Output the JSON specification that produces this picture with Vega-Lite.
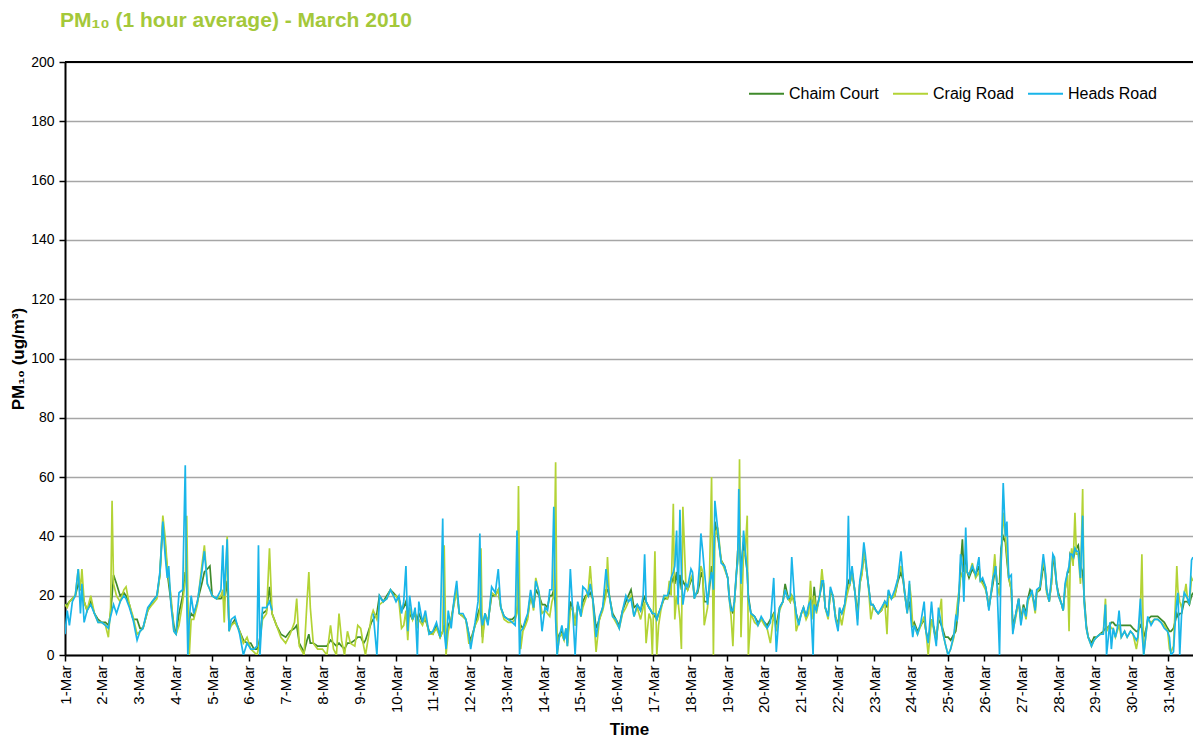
{
  "$schema": "https://vega.github.io/schema/vega-lite/v6.json",
  "autosize": {"type": "none"},
  "padding": {"left": 65, "top": 62, "right": 0, "bottom": 83},
  "width": 1128,
  "height": 593,
  "background": "white",
  "config": {
    "font": "Liberation Sans",
    "view": {"stroke": null},
    "axis": {"labelFont": "Liberation Sans", "titleFont": "Liberation Sans", "labelColor": "#000000", "titleColor": "#000000"}
  },
  "title": {
    "text": "PM₁₀ (1 hour average) - March 2010",
    "anchor": "start",
    "frame": "group",
    "dx": -5,
    "offset": 7,
    "baseline": "alphabetic",
    "fontSize": 21,
    "fontWeight": "bold",
    "font": "Liberation Sans",
    "color": "#a4c83a"
  },
  "data": {
    "values": [
      {"d":1.0,"c":17,"r":17,"h":7},{"d":1.06,"c":17,"r":16,"h":15},{"d":1.12,"c":18,"r":18,"h":10},{"d":1.2,"c":19,"r":19,"h":18},{"d":1.28,"c":20,"r":20,"h":20},{"d":1.36,"c":24,"r":29,"h":29},{"d":1.42,"c":22,"r":22,"h":14},{"d":1.46,"c":22,"r":29,"h":24},{"d":1.52,"c":18,"r":18,"h":11},{"d":1.6,"c":15,"r":15,"h":15},{"d":1.7,"c":18,"r":20,"h":17},{"d":1.8,"c":14,"r":14,"h":14},{"d":1.9,"c":12,"r":11,"h":11},
      {"d":2.0,"c":11,"r":11,"h":11},{"d":2.1,"c":11,"r":10,"h":10},{"d":2.18,"c":10,"r":6,"h":9},{"d":2.24,"c":14,"r":16,"h":13},{"d":2.28,"c":20,"r":52,"h":15},{"d":2.32,"c":27,"r":24,"h":17},{"d":2.4,"c":24,"r":20,"h":14},{"d":2.5,"c":20,"r":18,"h":18},{"d":2.6,"c":21,"r":22,"h":20},{"d":2.66,"c":20,"r":23,"h":19},{"d":2.75,"c":17,"r":17,"h":16},{"d":2.85,"c":12,"r":13,"h":12},{"d":2.96,"c":12,"r":7,"h":5},
      {"d":3.04,"c":9,"r":8,"h":8},{"d":3.12,"c":9,"r":9,"h":9},{"d":3.25,"c":15,"r":15,"h":16},{"d":3.37,"c":18,"r":17,"h":18},{"d":3.5,"c":20,"r":19,"h":20},{"d":3.58,"c":27,"r":27,"h":28},{"d":3.66,"c":44,"r":47,"h":45},{"d":3.72,"c":38,"r":40,"h":34},{"d":3.78,"c":28,"r":30,"h":26},{"d":3.82,"c":24,"r":26,"h":30},{"d":3.88,"c":18,"r":20,"h":17},{"d":3.96,"c":10,"r":8,"h":8},
      {"d":4.02,"c":7,"r":7,"h":7},{"d":4.1,"c":14,"r":10,"h":21},{"d":4.2,"c":20,"r":18,"h":22},{"d":4.27,"c":28,"r":25,"h":64},{"d":4.31,"c":24,"r":47,"h":20},{"d":4.34,"c":10,"r":20,"h":0},{"d":4.38,"c":12,"r":0,"h":12},{"d":4.43,"c":14,"r":12,"h":20},{"d":4.5,"c":13,"r":12,"h":14},{"d":4.6,"c":18,"r":17,"h":18},{"d":4.72,"c":24,"r":30,"h":28},{"d":4.79,"c":28,"r":37,"h":35},{"d":4.87,"c":29,"r":24,"h":24},{"d":4.94,"c":30,"r":22,"h":22},
      {"d":5.0,"c":20,"r":20,"h":20},{"d":5.12,"c":19,"r":19,"h":19},{"d":5.24,"c":19,"r":20,"h":22},{"d":5.29,"c":20,"r":22,"h":37},{"d":5.33,"c":18,"r":11,"h":20},{"d":5.41,"c":25,"r":40,"h":39},{"d":5.46,"c":10,"r":8,"h":8},{"d":5.52,"c":10,"r":10,"h":12},{"d":5.62,"c":12,"r":11,"h":13},{"d":5.75,"c":8,"r":8,"h":7},{"d":5.85,"c":5,"r":4,"h":0},{"d":5.95,"c":4,"r":6,"h":4},
      {"d":6.05,"c":4,"r":2,"h":2},{"d":6.14,"c":2,"r":1,"h":2},{"d":6.22,"c":2,"r":0,"h":3},{"d":6.26,"c":3,"r":2,"h":37},{"d":6.3,"c":6,"r":5,"h":0},{"d":6.37,"c":14,"r":12,"h":16},{"d":6.48,"c":15,"r":14,"h":16},{"d":6.56,"c":23,"r":36,"h":18},{"d":6.63,"c":14,"r":14,"h":15},{"d":6.75,"c":10,"r":10,"h":null},{"d":6.87,"c":7,"r":6,"h":null},
      {"d":7.0,"c":6,"r":4,"h":null},{"d":7.12,"c":8,"r":7,"h":null},{"d":7.24,"c":9,"r":11,"h":null},{"d":7.3,"c":10,"r":19,"h":null},{"d":7.37,"c":4,"r":3,"h":null},{"d":7.5,"c":1,"r":0,"h":null},{"d":7.58,"c":5,"r":18,"h":null},{"d":7.63,"c":7,"r":28,"h":null},{"d":7.67,"c":4,"r":16,"h":null},{"d":7.75,"c":4,"r":4,"h":null},{"d":7.87,"c":3,"r":2,"h":null},
      {"d":8.0,"c":3,"r":2,"h":null},{"d":8.12,"c":3,"r":0,"h":null},{"d":8.22,"c":5,"r":10,"h":null},{"d":8.3,"c":4,"r":2,"h":null},{"d":8.38,"c":3,"r":0,"h":null},{"d":8.45,"c":4,"r":14,"h":null},{"d":8.52,"c":3,"r":5,"h":null},{"d":8.6,"c":2,"r":0,"h":null},{"d":8.68,"c":4,"r":8,"h":null},{"d":8.76,"c":4,"r":4,"h":null},{"d":8.88,"c":5,"r":3,"h":null},{"d":8.96,"c":6,"r":10,"h":null},
      {"d":9.04,"c":6,"r":9,"h":null},{"d":9.12,"c":4,"r":3,"h":null},{"d":9.17,"c":5,"r":0,"h":null},{"d":9.25,"c":8,"r":6,"h":null},{"d":9.33,"c":11,"r":13,"h":null},{"d":9.38,"c":12,"r":15,"h":14},{"d":9.48,"c":14,"r":12,"h":0},{"d":9.55,"c":20,"r":17,"h":20},{"d":9.65,"c":18,"r":18,"h":18},{"d":9.75,"c":20,"r":19,"h":19},{"d":9.85,"c":22,"r":22,"h":22},{"d":9.93,"c":21,"r":20,"h":20},
      {"d":10.0,"c":20,"r":20,"h":18},{"d":10.08,"c":19,"r":18,"h":20},{"d":10.15,"c":15,"r":9,"h":14},{"d":10.21,"c":16,"r":10,"h":18},{"d":10.27,"c":18,"r":15,"h":30},{"d":10.32,"c":14,"r":5,"h":8},{"d":10.37,"c":14,"r":16,"h":20},{"d":10.45,"c":12,"r":12,"h":12},{"d":10.52,"c":14,"r":15,"h":16},{"d":10.58,"c":12,"r":9,"h":0},{"d":10.62,"c":14,"r":12,"h":18},{"d":10.72,"c":11,"r":10,"h":11},{"d":10.8,"c":12,"r":13,"h":15},{"d":10.9,"c":8,"r":7,"h":7},
      {"d":11.0,"c":7,"r":7,"h":8},{"d":11.1,"c":10,"r":9,"h":11},{"d":11.2,"c":6,"r":6,"h":6},{"d":11.27,"c":8,"r":8,"h":46},{"d":11.31,"c":10,"r":37,"h":8},{"d":11.36,"c":6,"r":0,"h":2},{"d":11.42,"c":10,"r":8,"h":15},{"d":11.5,"c":12,"r":12,"h":9},{"d":11.58,"c":18,"r":17,"h":19},{"d":11.65,"c":22,"r":22,"h":25},{"d":11.72,"c":14,"r":14,"h":14},{"d":11.82,"c":13,"r":13,"h":14},{"d":11.9,"c":12,"r":12,"h":12},{"d":11.98,"c":7,"r":4,"h":7},
      {"d":12.03,"c":5,"r":4,"h":2},{"d":12.15,"c":10,"r":10,"h":11},{"d":12.23,"c":14,"r":12,"h":18},{"d":12.28,"c":16,"r":15,"h":41},{"d":12.31,"c":14,"r":36,"h":14},{"d":12.35,"c":6,"r":4,"h":10},{"d":12.42,"c":14,"r":14,"h":14},{"d":12.5,"c":11,"r":11,"h":10},{"d":12.6,"c":20,"r":21,"h":23},{"d":12.7,"c":20,"r":20,"h":21},{"d":12.78,"c":22,"r":22,"h":29},{"d":12.85,"c":16,"r":16,"h":16},{"d":12.94,"c":13,"r":12,"h":13},
      {"d":13.05,"c":12,"r":11,"h":12},{"d":13.16,"c":12,"r":11,"h":11},{"d":13.24,"c":13,"r":12,"h":10},{"d":13.29,"c":15,"r":14,"h":42},{"d":13.33,"c":18,"r":57,"h":20},{"d":13.36,"c":12,"r":20,"h":0},{"d":13.39,"c":10,"r":2,"h":8},{"d":13.45,"c":9,"r":8,"h":9},{"d":13.52,"c":11,"r":10,"h":12},{"d":13.58,"c":13,"r":12,"h":14},{"d":13.66,"c":20,"r":21,"h":22},{"d":13.74,"c":16,"r":15,"h":16},{"d":13.8,"c":22,"r":26,"h":25},{"d":13.89,"c":20,"r":21,"h":21},{"d":13.97,"c":17,"r":14,"h":8},
      {"d":14.05,"c":17,"r":15,"h":16},{"d":14.12,"c":16,"r":14,"h":15},{"d":14.18,"c":20,"r":13,"h":22},{"d":14.24,"c":20,"r":18,"h":22},{"d":14.29,"c":22,"r":20,"h":50},{"d":14.34,"c":16,"r":65,"h":12},{"d":14.38,"c":4,"r":0,"h":0},{"d":14.44,"c":7,"r":6,"h":6},{"d":14.51,"c":8,"r":7,"h":10},{"d":14.57,"c":5,"r":5,"h":5},{"d":14.62,"c":8,"r":9,"h":9},{"d":14.66,"c":4,"r":3,"h":3},{"d":14.74,"c":18,"r":15,"h":29},{"d":14.8,"c":16,"r":16,"h":16},{"d":14.87,"c":10,"r":10,"h":0},{"d":14.94,"c":17,"r":17,"h":18},
      {"d":15.03,"c":14,"r":13,"h":13},{"d":15.08,"c":18,"r":16,"h":23},{"d":15.16,"c":20,"r":19,"h":22},{"d":15.23,"c":20,"r":22,"h":20},{"d":15.28,"c":21,"r":30,"h":24},{"d":15.35,"c":19,"r":18,"h":19},{"d":15.44,"c":9,"r":1,"h":6},{"d":15.53,"c":12,"r":12,"h":13},{"d":15.62,"c":16,"r":15,"h":16},{"d":15.71,"c":22,"r":20,"h":29},{"d":15.75,"c":22,"r":33,"h":24},{"d":15.8,"c":20,"r":20,"h":20},{"d":15.89,"c":14,"r":13,"h":13},{"d":15.98,"c":12,"r":11,"h":12},
      {"d":16.07,"c":10,"r":9,"h":9},{"d":16.16,"c":15,"r":14,"h":15},{"d":16.25,"c":18,"r":16,"h":20},{"d":16.32,"c":20,"r":18,"h":18},{"d":16.39,"c":22,"r":20,"h":19},{"d":16.47,"c":16,"r":13,"h":13},{"d":16.56,"c":17,"r":16,"h":17},{"d":16.65,"c":15,"r":12,"h":15},{"d":16.72,"c":18,"r":16,"h":20},{"d":16.76,"c":20,"r":18,"h":34},{"d":16.8,"c":18,"r":4,"h":18},{"d":16.88,"c":16,"r":14,"h":16},{"d":16.93,"c":15,"r":12,"h":15},{"d":16.97,"c":14,"r":0,"h":14},
      {"d":17.04,"c":13,"r":35,"h":14},{"d":17.09,"c":12,"r":0,"h":12},{"d":17.14,"c":14,"r":10,"h":14},{"d":17.2,"c":16,"r":15,"h":16},{"d":17.29,"c":19,"r":20,"h":20},{"d":17.38,"c":19,"r":19,"h":20},{"d":17.43,"c":21,"r":25,"h":22},{"d":17.48,"c":24,"r":20,"h":26},{"d":17.54,"c":26,"r":51,"h":28},{"d":17.58,"c":24,"r":12,"h":30},{"d":17.63,"c":28,"r":20,"h":42},{"d":17.67,"c":22,"r":18,"h":17},{"d":17.72,"c":27,"r":12,"h":49},{"d":17.76,"c":22,"r":2,"h":28},{"d":17.8,"c":25,"r":50,"h":17},{"d":17.88,"c":23,"r":24,"h":24},{"d":17.93,"c":22,"r":22,"h":23},
      {"d":18.02,"c":25,"r":26,"h":29},{"d":18.06,"c":26,"r":27,"h":28},{"d":18.11,"c":20,"r":19,"h":19},{"d":18.2,"c":21,"r":22,"h":22},{"d":18.25,"c":24,"r":26,"h":30},{"d":18.29,"c":28,"r":30,"h":41},{"d":18.34,"c":26,"r":28,"h":35},{"d":18.38,"c":18,"r":10,"h":29},{"d":18.47,"c":18,"r":16,"h":17},{"d":18.52,"c":22,"r":24,"h":24},{"d":18.58,"c":30,"r":60,"h":28},{"d":18.63,"c":24,"r":0,"h":22},{"d":18.67,"c":45,"r":40,"h":52},{"d":18.75,"c":40,"r":43,"h":42},{"d":18.84,"c":32,"r":32,"h":31},{"d":18.93,"c":30,"r":29,"h":30},
      {"d":19.02,"c":26,"r":26,"h":26},{"d":19.06,"c":20,"r":19,"h":19},{"d":19.11,"c":16,"r":13,"h":15},{"d":19.16,"c":14,"r":3,"h":15},{"d":19.2,"c":18,"r":17,"h":18},{"d":19.25,"c":26,"r":27,"h":27},{"d":19.29,"c":35,"r":31,"h":32},{"d":19.32,"c":38,"r":40,"h":56},{"d":19.34,"c":36,"r":66,"h":40},{"d":19.38,"c":30,"r":6,"h":24},{"d":19.45,"c":38,"r":35,"h":42},{"d":19.49,"c":34,"r":34,"h":36},{"d":19.55,"c":28,"r":47,"h":28},{"d":19.58,"c":20,"r":0,"h":19},{"d":19.65,"c":14,"r":14,"h":14},{"d":19.75,"c":13,"r":11,"h":13},{"d":19.84,"c":11,"r":10,"h":10},{"d":19.93,"c":12,"r":12,"h":13},
      {"d":20.02,"c":11,"r":10,"h":11},{"d":20.09,"c":10,"r":9,"h":9},{"d":20.18,"c":12,"r":4,"h":11},{"d":20.27,"c":14,"r":14,"h":26},{"d":20.34,"c":10,"r":8,"h":1},{"d":20.43,"c":16,"r":15,"h":16},{"d":20.52,"c":18,"r":18,"h":18},{"d":20.58,"c":24,"r":22,"h":22},{"d":20.65,"c":20,"r":19,"h":19},{"d":20.72,"c":18,"r":18,"h":20},{"d":20.76,"c":20,"r":20,"h":33},{"d":20.84,"c":18,"r":17,"h":18},{"d":20.88,"c":14,"r":8,"h":14},{"d":20.95,"c":11,"r":11,"h":10},
      {"d":21.02,"c":14,"r":14,"h":14},{"d":21.08,"c":16,"r":15,"h":16},{"d":21.15,"c":13,"r":12,"h":13},{"d":21.22,"c":16,"r":14,"h":17},{"d":21.27,"c":20,"r":25,"h":18},{"d":21.34,"c":16,"r":12,"h":0},{"d":21.37,"c":23,"r":20,"h":17},{"d":21.43,"c":15,"r":14,"h":15},{"d":21.52,"c":20,"r":20,"h":20},{"d":21.58,"c":24,"r":29,"h":25},{"d":21.62,"c":24,"r":24,"h":25},{"d":21.67,"c":16,"r":16,"h":16},{"d":21.75,"c":13,"r":12,"h":13},{"d":21.81,"c":21,"r":22,"h":23},{"d":21.88,"c":20,"r":20,"h":20},{"d":21.95,"c":13,"r":13,"h":12},
      {"d":22.02,"c":10,"r":9,"h":8},{"d":22.06,"c":15,"r":14,"h":16},{"d":22.12,"c":14,"r":10,"h":14},{"d":22.2,"c":17,"r":16,"h":17},{"d":22.26,"c":22,"r":20,"h":24},{"d":22.3,"c":25,"r":22,"h":47},{"d":22.34,"c":24,"r":24,"h":24},{"d":22.4,"c":28,"r":28,"h":30},{"d":22.47,"c":22,"r":22,"h":22},{"d":22.55,"c":14,"r":12,"h":10},{"d":22.61,"c":24,"r":24,"h":25},{"d":22.67,"c":28,"r":27,"h":30},{"d":22.72,"c":34,"r":35,"h":38},{"d":22.76,"c":32,"r":32,"h":34},{"d":22.84,"c":24,"r":24,"h":24},{"d":22.91,"c":17,"r":12,"h":17},{"d":22.97,"c":17,"r":16,"h":17},
      {"d":23.05,"c":15,"r":15,"h":15},{"d":23.11,"c":14,"r":14,"h":14},{"d":23.2,"c":15,"r":15,"h":16},{"d":23.29,"c":18,"r":18,"h":18},{"d":23.35,"c":16,"r":7,"h":17},{"d":23.39,"c":21,"r":20,"h":22},{"d":23.47,"c":19,"r":19,"h":19},{"d":23.56,"c":20,"r":20,"h":22},{"d":23.65,"c":25,"r":26,"h":26},{"d":23.73,"c":28,"r":30,"h":35},{"d":23.79,"c":25,"r":26,"h":26},{"d":23.84,"c":20,"r":20,"h":20},{"d":23.9,"c":15,"r":14,"h":14},{"d":23.96,"c":18,"r":24,"h":25},
      {"d":24.0,"c":14,"r":20,"h":12},{"d":24.05,"c":10,"r":10,"h":6},{"d":24.09,"c":11,"r":10,"h":10},{"d":24.18,"c":8,"r":7,"h":7},{"d":24.27,"c":10,"r":10,"h":11},{"d":24.36,"c":12,"r":13,"h":18},{"d":24.41,"c":8,"r":8,"h":8},{"d":24.47,"c":5,"r":0,"h":4},{"d":24.56,"c":12,"r":12,"h":18},{"d":24.63,"c":9,"r":8,"h":8},{"d":24.69,"c":5,"r":5,"h":3},{"d":24.75,"c":12,"r":12,"h":16},{"d":24.83,"c":10,"r":19,"h":10},{"d":24.86,"c":9,"r":8,"h":8},{"d":24.93,"c":6,"r":4,"h":4},
      {"d":25.01,"c":6,"r":0,"h":0},{"d":25.08,"c":5,"r":2,"h":2},{"d":25.17,"c":7,"r":6,"h":7},{"d":25.22,"c":8,"r":12,"h":13},{"d":25.26,"c":12,"r":17,"h":12},{"d":25.31,"c":20,"r":22,"h":22},{"d":25.35,"c":30,"r":26,"h":34},{"d":25.4,"c":39,"r":28,"h":30},{"d":25.44,"c":28,"r":24,"h":18},{"d":25.49,"c":34,"r":30,"h":43},{"d":25.53,"c":28,"r":28,"h":28},{"d":25.58,"c":26,"r":27,"h":27},{"d":25.67,"c":29,"r":31,"h":30},{"d":25.76,"c":27,"r":26,"h":27},{"d":25.85,"c":30,"r":28,"h":33},{"d":25.89,"c":25,"r":25,"h":25},{"d":25.95,"c":25,"r":24,"h":26},
      {"d":26.03,"c":23,"r":22,"h":23},{"d":26.07,"c":20,"r":20,"h":20},{"d":26.12,"c":16,"r":16,"h":15},{"d":26.16,"c":19,"r":19,"h":19},{"d":26.23,"c":24,"r":26,"h":26},{"d":26.28,"c":28,"r":34,"h":28},{"d":26.3,"c":30,"r":30,"h":30},{"d":26.34,"c":24,"r":24,"h":24},{"d":26.41,"c":24,"r":20,"h":0},{"d":26.45,"c":36,"r":30,"h":30},{"d":26.51,"c":40,"r":48,"h":58},{"d":26.57,"c":38,"r":40,"h":40},{"d":26.61,"c":32,"r":34,"h":45},{"d":26.66,"c":26,"r":26,"h":26},{"d":26.73,"c":22,"r":22,"h":27},{"d":26.77,"c":10,"r":8,"h":7},{"d":26.84,"c":13,"r":12,"h":13},{"d":26.93,"c":19,"r":18,"h":19},{"d":26.99,"c":12,"r":11,"h":10},
      {"d":27.06,"c":17,"r":16,"h":16},{"d":27.13,"c":14,"r":12,"h":13},{"d":27.18,"c":19,"r":18,"h":19},{"d":27.24,"c":22,"r":20,"h":20},{"d":27.29,"c":21,"r":21,"h":22},{"d":27.38,"c":16,"r":14,"h":15},{"d":27.42,"c":21,"r":21,"h":22},{"d":27.51,"c":22,"r":23,"h":23},{"d":27.6,"c":30,"r":32,"h":34},{"d":27.65,"c":28,"r":28,"h":29},{"d":27.69,"c":22,"r":21,"h":22},{"d":27.76,"c":18,"r":18,"h":18},{"d":27.82,"c":24,"r":24,"h":26},{"d":27.86,"c":32,"r":33,"h":34},{"d":27.9,"c":31,"r":33,"h":33},{"d":27.96,"c":24,"r":24,"h":24},
      {"d":28.01,"c":21,"r":20,"h":20},{"d":28.1,"c":17,"r":17,"h":17},{"d":28.14,"c":15,"r":15,"h":15},{"d":28.19,"c":22,"r":22,"h":24},{"d":28.26,"c":28,"r":27,"h":28},{"d":28.3,"c":28,"r":8,"h":30},{"d":28.33,"c":34,"r":30,"h":34},{"d":28.37,"c":33,"r":36,"h":34},{"d":28.41,"c":32,"r":30,"h":33},{"d":28.46,"c":35,"r":48,"h":36},{"d":28.5,"c":36,"r":34,"h":35},{"d":28.55,"c":37,"r":34,"h":35},{"d":28.61,"c":30,"r":24,"h":26},{"d":28.67,"c":28,"r":56,"h":47},{"d":28.71,"c":20,"r":18,"h":18},{"d":28.77,"c":10,"r":9,"h":9},{"d":28.82,"c":6,"r":6,"h":6},{"d":28.91,"c":4,"r":3,"h":3},{"d":28.98,"c":6,"r":5,"h":5},
      {"d":29.05,"c":6,"r":6,"h":6},{"d":29.14,"c":7,"r":7,"h":7},{"d":29.23,"c":8,"r":7,"h":7},{"d":29.29,"c":9,"r":19,"h":17},{"d":29.32,"c":9,"r":8,"h":0},{"d":29.41,"c":10,"r":10,"h":11},{"d":29.45,"c":11,"r":9,"h":2},{"d":29.5,"c":11,"r":9,"h":9},{"d":29.56,"c":10,"r":6,"h":6},{"d":29.61,"c":10,"r":8,"h":9},{"d":29.66,"c":10,"r":10,"h":15},{"d":29.72,"c":10,"r":6,"h":6},{"d":29.81,"c":10,"r":8,"h":8},{"d":29.88,"c":10,"r":6,"h":6},{"d":29.97,"c":10,"r":8,"h":8},
      {"d":30.04,"c":9,"r":7,"h":7},{"d":30.13,"c":8,"r":2,"h":5},{"d":30.17,"c":8,"r":5,"h":6},{"d":30.24,"c":10,"r":15,"h":19},{"d":30.28,"c":9,"r":34,"h":8},{"d":30.33,"c":6,"r":0,"h":0},{"d":30.4,"c":9,"r":8,"h":8},{"d":30.44,"c":12,"r":12,"h":13},{"d":30.53,"c":13,"r":11,"h":10},{"d":30.62,"c":13,"r":12,"h":12},{"d":30.71,"c":13,"r":12,"h":12},{"d":30.8,"c":12,"r":11,"h":11},{"d":30.89,"c":11,"r":10,"h":9},{"d":30.98,"c":9,"r":8,"h":8},
      {"d":31.03,"c":8,"r":2,"h":6},{"d":31.07,"c":8,"r":1,"h":0},{"d":31.14,"c":9,"r":3,"h":1},{"d":31.2,"c":12,"r":20,"h":14},{"d":31.23,"c":14,"r":30,"h":18},{"d":31.26,"c":13,"r":22,"h":21},{"d":31.31,"c":14,"r":18,"h":0},{"d":31.36,"c":14,"r":16,"h":14},{"d":31.43,"c":18,"r":20,"h":21},{"d":31.48,"c":18,"r":24,"h":20},{"d":31.52,"c":18,"r":19,"h":19},{"d":31.57,"c":17,"r":17,"h":17},{"d":31.63,"c":20,"r":26,"h":32},{"d":31.67,"c":21,"r":25,"h":33}
    ]
  },
  "encoding": {
    "x": {
      "field": "d",
      "type": "quantitative",
      "scale": {"domain": [1, 31.67], "nice": false, "zero": false},
      "axis": {
        "title": "Time",
        "titleFontSize": 17,
        "titleFontWeight": "bold",
        "titlePadding": 9,
        "values": [1,2,3,4,5,6,7,8,9,10,11,12,13,14,15,16,17,18,19,20,21,22,23,24,25,26,27,28,29,30,31],
        "labelExpr": "datum.value + '-Mar'",
        "labelAngle": 270,
        "labelAlign": "right",
        "labelBaseline": "middle",
        "labelFontSize": 15,
        "labelPadding": 4,
        "labelOverlap": false,
        "labelFlush": false,
        "grid": false,
        "domainColor": "#000000",
        "domainWidth": 2,
        "tickColor": "#000000",
        "tickWidth": 1.5,
        "tickSize": 6
      }
    }
  },
  "layer": [
    {
      "mark": {"type": "rule", "color": "#000000", "strokeWidth": 2},
      "encoding": {"y": {"datum": 200, "type": "quantitative"}, "x": null}
    },
    {
      "mark": {"type": "line", "strokeWidth": 1.7, "clip": true},
      "encoding": {
        "y": {
          "field": "c",
          "type": "quantitative",
          "scale": {"domain": [0, 200], "nice": false},
          "axis": {
            "title": "PM₁₀ (ug/m³)",
            "titleFontSize": 17,
            "titleFontWeight": "bold",
            "titleX": -47,
            "titleBaseline": "middle",
            "values": [0,20,40,60,80,100,120,140,160,180,200],
            "labelFontSize": 14,
            "labelPadding": 5,
            "grid": true,
            "gridColor": "#a6a6a6",
            "gridWidth": 1.5,
            "domainColor": "#000000",
            "domainWidth": 2,
            "tickColor": "#000000",
            "tickWidth": 1.5,
            "tickSize": 6
          }
        },
        "color": {
          "datum": "Chaim Court",
          "type": "nominal",
          "scale": {"domain": ["Chaim Court", "Craig Road", "Heads Road"], "range": ["#3f8a2b", "#b3d335", "#19b5e9"]},
          "legend": {
            "title": null,
            "orient": "none",
            "legendX": 683,
            "legendY": 13,
            "direction": "horizontal",
            "symbolType": "stroke",
            "symbolSize": 1225,
            "symbolStrokeWidth": 2,
            "labelFontSize": 16,
            "labelFont": "Liberation Sans",
            "labelColor": "#000000",
            "labelOffset": 4,
            "columnPadding": 10
          }
        }
      }
    },
    {
      "mark": {"type": "line", "strokeWidth": 1.7, "clip": true},
      "encoding": {
        "y": {"field": "r", "type": "quantitative"},
        "color": {"datum": "Craig Road", "type": "nominal"}
      }
    },
    {
      "mark": {"type": "line", "strokeWidth": 1.7, "clip": true, "invalid": "break-paths-filter-domains"},
      "encoding": {
        "y": {"field": "h", "type": "quantitative"},
        "color": {"datum": "Heads Road", "type": "nominal"}
      }
    }
  ]
}
